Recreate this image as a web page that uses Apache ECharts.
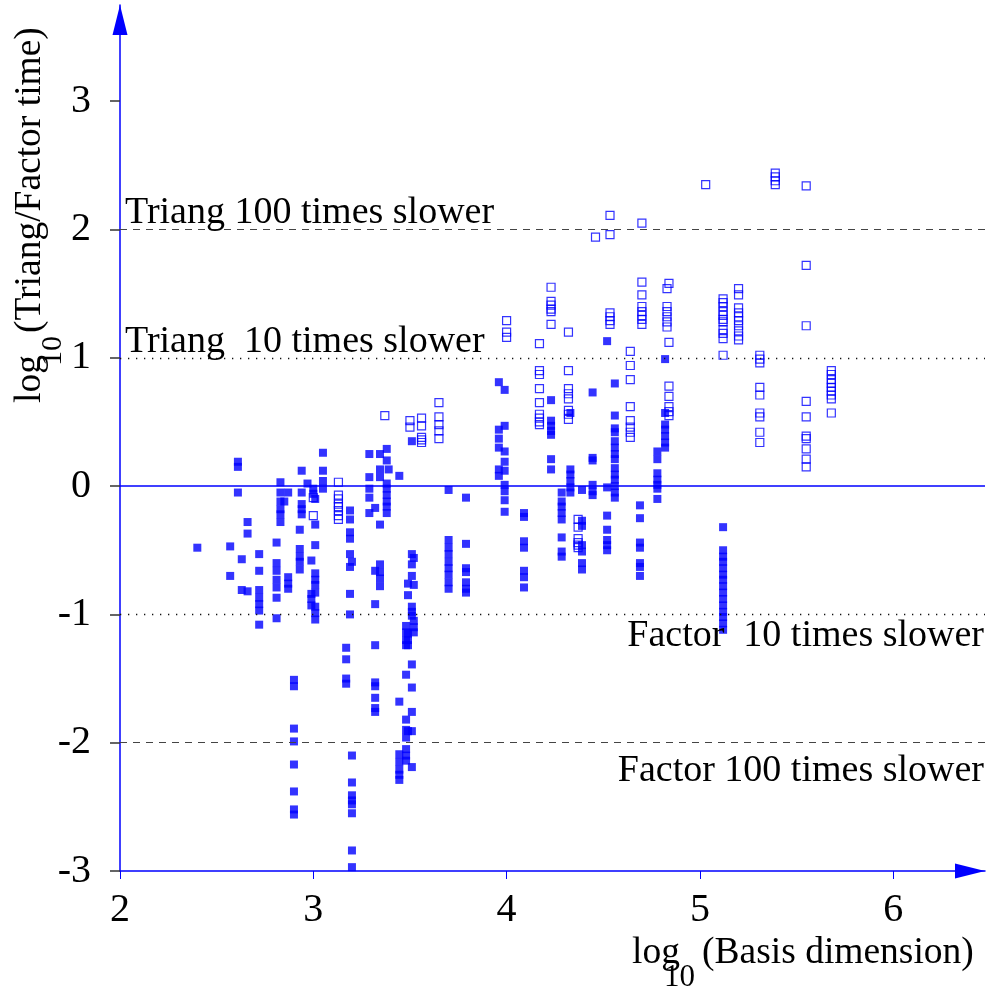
<!DOCTYPE html>
<html><head><meta charset="utf-8">
<script src="https://cdn.jsdelivr.net/npm/echarts@6/dist/echarts.min.js"></script>
<style>html,body{margin:0;padding:0;background:#fff}#c{width:993px;height:990px}</style>
</head><body><div id="c"></div>
<script>
const xTicks = [2, 3, 4, 5, 6];
const yTicks = [-3, -2, -1, 0, 1, 2, 3];
const xRange = [2, 6.475];
const yRange = [-3, 3.75];
const refLevels = [2, 1, 0, -1, -2];
const refLabels = ['Triang 100 times slower', 'Triang  10 times slower', '', 'Factor  10 times slower', 'Factor 100 times slower'];

const solidPoints = [
[2.40,-0.48],
[2.57,-0.47],[2.57,-0.70],
[2.61,0.19],[2.61,0.15],[2.61,-0.05],
[2.63,-0.57],[2.63,-0.81],
[2.66,-0.28],[2.66,-0.37],[2.66,-0.82],
[2.72,-0.53],[2.72,-0.66],[2.72,-0.81],[2.72,-0.87],[2.72,-0.92],[2.72,-0.97],[2.72,-1.08],
[2.81,-0.44],[2.81,-0.60],[2.81,-0.66],[2.81,-0.73],[2.81,-0.79],[2.81,-0.87],[2.81,-1.03],
[2.83,0.03],[2.83,-0.05],[2.83,-0.12],[2.83,-0.18],[2.83,-0.22],[2.83,-0.28],
[2.85,-0.12],
[2.87,-0.05],[2.87,-0.71],[2.87,-0.76],[2.87,-0.80],
[2.90,-1.51],[2.90,-1.56],[2.90,-1.89],[2.90,-1.99],[2.90,-2.17],[2.90,-2.38],[2.90,-2.52],[2.90,-2.56],
[2.93,-0.34],[2.93,-0.49],[2.93,-0.55],[2.93,-0.59],[2.93,-0.65],
[2.94,0.12],[2.94,-0.05],[2.94,-0.14],[2.94,-0.18],[2.94,-0.22],
[2.97,0.02],
[2.99,-0.58],[2.99,-0.84],[2.99,-0.88],[2.99,-0.93],
[3.00,-0.02],[3.00,-0.06],
[3.01,-0.10],[3.01,-0.30],[3.01,-0.46],[3.01,-0.68],[3.01,-0.73],[3.01,-0.77],[3.01,-0.83],[3.01,-0.94],[3.01,-0.99],[3.01,-1.04],
[3.05,0.26],[3.05,0.12],[3.05,0.04],[3.05,-0.02],
[3.17,-1.26],[3.17,-1.35],[3.17,-1.50],[3.17,-1.54],
[3.19,-0.19],[3.19,-0.26],[3.19,-0.36],[3.19,-0.41],[3.19,-0.53],[3.19,-0.63],[3.19,-0.84],[3.19,-1.00],
[3.20,-0.59],[3.20,-2.10],[3.20,-2.31],[3.20,-2.41],[3.20,-2.45],[3.20,-2.48],[3.20,-2.55],[3.20,-2.84],[3.20,-2.97],
[3.29,0.25],[3.29,0.07],[3.29,-0.02],[3.29,-0.09],[3.29,-0.21],
[3.32,-0.17],[3.32,-0.66],[3.32,-0.92],[3.32,-1.24],[3.32,-1.53],[3.32,-1.56],[3.32,-1.65],[3.32,-1.73],[3.32,-1.76],
[3.345,0.25],[3.345,0.13],[3.345,0.07],[3.345,-0.30],[3.345,-0.61],[3.345,-0.67],[3.345,-0.72],[3.345,-0.78],
[3.38,0.29],[3.38,0.20],[3.38,0.02],[3.38,-0.02],[3.38,-0.07],[3.38,-0.12],[3.38,-0.16],[3.38,-0.21],
[3.39,0.13],
[3.445,0.08],[3.445,-1.68],[3.445,-2.09],[3.445,-2.15],[3.445,-2.21],[3.445,-2.25],[3.445,-2.29],
[3.48,-1.09],[3.48,-1.14],[3.48,-1.20],[3.48,-1.24],[3.48,-1.47],[3.48,-1.82],[3.48,-1.90],[3.48,-1.96],[3.48,-2.05],[3.48,-2.10],[3.48,-2.14],
[3.49,-0.76],[3.49,-0.85],[3.49,-1.15],[3.49,-1.20],[3.49,-1.24],[3.49,-1.91],
[3.51,0.35],[3.51,-0.53],[3.51,-0.61],[3.51,-0.70],[3.51,-0.94],[3.51,-0.98],[3.51,-1.01],[3.51,-1.39],[3.51,-1.57],[3.51,-1.76],[3.51,-1.91],[3.51,-2.19],
[3.52,-0.56],[3.52,-0.77],[3.52,-1.05],[3.52,-1.10],[3.52,-1.14],
[3.70,-0.03],[3.70,-0.42],[3.70,-0.48],[3.70,-0.53],[3.70,-0.59],[3.70,-0.64],[3.70,-0.69],[3.70,-0.75],[3.70,-0.80],
[3.79,-0.09],[3.79,-0.45],[3.79,-0.64],[3.79,-0.67],[3.79,-0.75],[3.79,-0.80],[3.79,-0.83],
[3.96,0.81],[3.96,0.44],[3.96,0.37],[3.96,0.30],[3.96,0.13],[3.96,0.08],
[3.99,0.75],[3.99,0.47],[3.99,0.27],[3.99,0.19],[3.99,0.12],[3.99,0.01],[3.99,-0.04],[3.99,-0.11],[3.99,-0.20],
[4.09,-0.21],[4.09,-0.24],[4.09,-0.43],[4.09,-0.48],[4.09,-0.66],[4.09,-0.71],[4.09,-0.79],
[4.23,0.67],[4.23,0.51],[4.23,0.47],[4.23,0.43],[4.23,0.40],[4.23,0.21],[4.23,0.13],
[4.285,-0.05],[4.285,-0.12],[4.285,-0.16],[4.285,-0.21],[4.285,-0.26],[4.285,-0.40],[4.285,-0.51],[4.285,-0.55],
[4.33,0.57],[4.33,0.13],[4.33,0.09],[4.33,0.04],[4.33,-0.01],[4.33,-0.05],
[4.39,-0.03],[4.39,-0.27],[4.39,-0.31],[4.39,-0.46],[4.39,-0.51],[4.39,-0.60],[4.39,-0.65],
[4.445,0.73],[4.445,0.22],[4.445,0.20],[4.445,0.01],[4.445,-0.04],[4.445,-0.07],
[4.52,1.13],[4.52,-0.01],[4.52,-0.23],[4.52,-0.34],[4.52,-0.42],[4.52,-0.46],[4.52,-0.50],
[4.56,0.80],[4.56,0.55],[4.56,0.45],[4.56,0.42],[4.56,0.35],[4.56,0.30],[4.56,0.25],[4.56,0.21],[4.56,0.14],[4.56,0.09],[4.56,0.05],[4.56,0.00],[4.56,-0.05],[4.56,-0.09],
[4.69,-0.15],[4.69,-0.25],[4.69,-0.44],[4.69,-0.48],[4.69,-0.60],[4.69,-0.63],[4.69,-0.70],
[4.78,0.27],[4.78,0.21],[4.78,0.10],[4.78,0.05],[4.78,0.01],[4.78,-0.02],[4.78,-0.10],
[4.82,0.99],[4.82,0.57],[4.82,0.48],[4.82,0.44],[4.82,0.39],[4.82,0.34],[4.82,0.30],
[5.12,-0.32],[5.12,-0.50],[5.12,-0.55],[5.12,-0.59],[5.12,-0.64],[5.12,-0.69],[5.12,-0.73],[5.12,-0.78],[5.12,-0.83],[5.12,-0.88],[5.12,-0.93],[5.12,-0.98],[5.12,-1.02],[5.12,-1.07],[5.12,-1.12]
];

const openPoints = [
[3.00,-0.09],[3.00,-0.23],
[3.13,0.03],[3.13,-0.07],[3.13,-0.10],[3.13,-0.14],[3.13,-0.16],[3.13,-0.19],[3.13,-0.23],[3.13,-0.26],
[3.37,0.55],
[3.50,0.51],[3.50,0.46],
[3.56,0.53],[3.56,0.47],[3.56,0.38],[3.56,0.36],[3.56,0.34],
[3.65,0.65],[3.65,0.54],[3.65,0.48],[3.65,0.43],[3.65,0.37],
[4.00,1.29],[4.00,1.20],[4.00,1.16],
[4.17,1.11],[4.17,0.90],[4.17,0.87],[4.17,0.76],[4.17,0.65],[4.17,0.56],[4.17,0.53],[4.17,0.50],[4.17,0.48],
[4.23,1.55],[4.23,1.44],[4.23,1.41],[4.23,1.38],[4.23,1.36],[4.23,1.26],
[4.32,1.20],[4.32,0.90],[4.32,0.76],[4.32,0.72],[4.32,0.68],[4.32,0.59],[4.32,0.56],[4.32,0.52],
[4.37,-0.26],[4.37,-0.32],[4.37,-0.41],[4.37,-0.44],[4.37,-0.46],[4.37,-0.48],
[4.46,1.94],
[4.535,2.11],[4.535,1.96],[4.535,1.35],[4.535,1.32],[4.535,1.29],[4.535,1.26],
[4.64,1.05],[4.64,0.94],[4.64,0.83],[4.64,0.62],[4.64,0.51],[4.64,0.46],[4.64,0.42],[4.64,0.38],
[4.70,2.05],[4.70,1.59],[4.70,1.49],[4.70,1.40],[4.70,1.36],[4.70,1.33],[4.70,1.30],[4.70,1.26],
[4.83,1.54],[4.83,1.40],[4.83,1.36],[4.83,1.32],[4.83,1.28],[4.83,1.24],
[4.84,1.58],[4.84,1.12],[4.84,0.78],[4.84,0.70],[4.84,0.62],[4.84,0.58],[4.84,0.55],
[5.03,2.35],
[5.12,1.46],[5.12,1.43],[5.12,1.40],[5.12,1.36],[5.12,1.33],[5.12,1.30],[5.12,1.28],[5.12,1.22],[5.12,1.19],[5.12,1.15],[5.12,1.02],
[5.20,1.54],[5.20,1.49],[5.20,1.39],[5.20,1.35],[5.20,1.32],[5.20,1.29],[5.20,1.25],[5.20,1.21],[5.20,1.17],[5.20,1.14],
[5.31,1.02],[5.31,0.99],[5.31,0.96],[5.31,0.77],[5.31,0.71],[5.31,0.57],[5.31,0.54],[5.31,0.42],[5.31,0.34],
[5.39,2.44],[5.39,2.41],[5.39,2.38],[5.39,2.35],
[5.55,2.34],[5.55,1.72],[5.55,1.25],[5.55,0.66],[5.55,0.54],[5.55,0.39],[5.55,0.37],[5.55,0.29],[5.55,0.21],[5.55,0.15],
[5.68,0.90],[5.68,0.87],[5.68,0.83],[5.68,0.80],[5.68,0.77],[5.68,0.74],[5.68,0.71],[5.68,0.68],[5.68,0.57]
];

const SERIF = "'Liberation Serif', 'DejaVu Serif', serif";
const BLUE = '#0000ff';

// styles for reference lines, by index of refLevels
const refLineStyles = [
  {lineStyle: {type: [7, 6], color: '#444', width: 1}, label: {position: 'insideStartTop', distance: [5, -2]}},
  {lineStyle: {type: [1.3, 6.7], color: '#111', width: 1.3}, label: {position: 'insideStartTop', distance: [5, -3]}},
  {lineStyle: {type: 'solid', color: BLUE, width: 1.5}, label: {show: false}},
  {lineStyle: {type: [1.3, 6.7], color: '#111', width: 1.3}, label: {position: 'insideEndBottom', distance: [1, 3]}},
  {lineStyle: {type: [7, 6], color: '#444', width: 1}, label: {position: 'insideEndBottom', distance: [1, 9]}}
];

const markData = refLevels.map((v, i) => ({
  yAxis: v,
  lineStyle: refLineStyles[i].lineStyle,
  label: Object.assign({
    show: true,
    formatter: refLabels[i],
    fontFamily: SERIF,
    fontSize: 38,
    color: '#000'
  }, refLineStyles[i].label)
}));

function txt(text, x, y, size) {
  return {
    type: 'text', x: x, y: y - 0.3375 * size,
    style: {text: text, fontSize: size, fontFamily: SERIF, fill: '#000',
            align: 'left', verticalAlign: 'middle', textAlign: 'left', textVerticalAlign: 'middle'}
  };
}

const chart = echarts.init(document.getElementById('c'), null, {renderer: 'canvas'});
chart.setOption({
  animation: false,
  backgroundColor: '#fff',
  grid: {left: 120, right: 8, top: 5, bottom: 119, containLabel: false},
  xAxis: {
    type: 'value', min: xRange[0], max: xRange[1], interval: 1,
    axisLine: {show: true, onZero: false, lineStyle: {color: BLUE, width: 1.5},
               symbol: ['none', 'triangle'], symbolSize: [15, 30], symbolOffset: [0, -15]},
    axisTick: {show: true, length: 8, customValues: xTicks, lineStyle: {color: BLUE, width: 1}},
    axisLabel: {show: true, customValues: xTicks, margin: 19, fontFamily: SERIF, fontSize: 40, color: '#000'},
    splitLine: {show: false}
  },
  yAxis: {
    type: 'value', min: yRange[0], max: yRange[1], interval: 1,
    axisLine: {show: true, onZero: false, lineStyle: {color: BLUE, width: 1.5},
               symbol: ['none', 'triangle'], symbolSize: [15, 30], symbolOffset: [0, -15]},
    axisTick: {show: true, length: 10, customValues: yTicks, lineStyle: {color: '#333', width: 1.5}},
    axisLabel: {show: true, customValues: yTicks, margin: 29, fontFamily: SERIF, fontSize: 40, color: '#000'},
    splitLine: {show: false}
  },
  series: [
    {
      type: 'scatter', name: 'open', data: openPoints, symbol: 'rect', symbolSize: 8,
      itemStyle: {color: 'rgba(255,255,255,0)', borderColor: BLUE, borderWidth: 1.2},
      silent: true, z: 2
    },
    {
      type: 'scatter', name: 'solid', data: solidPoints, symbol: 'rect', symbolSize: 8,
      itemStyle: {color: BLUE}, silent: true, z: 3,
      markLine: {silent: true, symbol: 'none', animation: false, data: markData}
    }
  ],
  graphic: [
    txt('log', 632, 966, 37.5),
    txt('10', 664, 988, 31),
    txt('(Basis dimension)', 702, 966, 37.5),
    {
      type: 'group', x: 43, y: 403, rotation: Math.PI / 2,
      children: [
        txt('log', 0, 0, 37.5),
        txt('10', 37, 20, 30),
        txt('(Triang/Factor time)', 70, 0, 37.5)
      ]
    }
  ]
});
</script>
</body></html>
